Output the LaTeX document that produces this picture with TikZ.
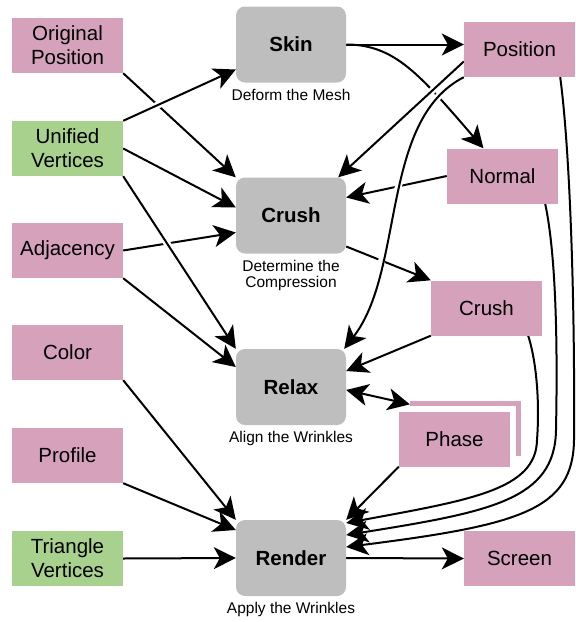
\documentclass[tikz,border=0pt]{standalone}
\usepackage{fontspec}
\setmainfont{Liberation Sans}
\usetikzlibrary{arrows.meta,calc}
\pgfdeclarelayer{bg}
\pgfsetlayers{bg,main}
\definecolor{pinkc}{HTML}{D5A1BB}
\definecolor{greenc}{HTML}{A9D18E}
\definecolor{grayc}{HTML}{BEBEBE}
\begin{document}
\begin{tikzpicture}[x=1pt,y=-1pt,
  box/.style={rectangle, minimum width=111pt, minimum height=55pt, inner sep=0pt, align=center, font=\fontsize{20.5}{24}\selectfont},
  pinkbox/.style={box, fill=pinkc},
  greenbox/.style={box, fill=greenc},
  proc/.style={rectangle, rounded corners=9pt, fill=grayc, minimum width=110pt, minimum height=76pt, inner sep=0pt, font=\fontsize{20.5}{24}\selectfont\bfseries},
  captxt/.style={anchor=north, inner sep=0pt, align=center, font=\fontsize{15.5}{16.5}\selectfont},
  conn/.style={line width=2pt, -{Stealth[length=22pt,width=22pt,inset=6pt]}},
  dconn/.style={line width=2pt, {Stealth[length=22pt,width=22pt,inset=6pt]}-{Stealth[length=22pt,width=22pt,inset=6pt]}},
  gapped/.style={preaction={draw=white, line width=7pt, -}}
]
\useasboundingbox (0,0) rectangle (576,622);
% left inputs
\node[pinkbox] (op) at (67.5,45.5) {Original\\Position};
\node[greenbox] (uv) at (67.5,148.5) {Unified\\Vertices};
\node[pinkbox] (adj) at (67.5,250.5) {Adjacency};
\node[pinkbox] (col) at (67.5,352.5) {Color};
\node[pinkbox] (prof) at (67.5,455.5) {Profile};
\node[greenbox] (tv) at (67.5,558.5) {Triangle\\Vertices};
% processes
\node[proc] (skin) at (291,44.5) {Skin};
\node[proc] (crush) at (291,215.5) {Crush};
\node[proc] (relax) at (291,387) {Relax};
\node[proc] (render) at (291,558) {Render};
\node[captxt] (skinl) at ($(skin.south)+(0,6)$) {Deform the Mesh};
\node[captxt] (crushl) at ($(crush.south)+(0,6)$) {Determine the\\Compression};
\node[captxt] (relaxl) at ($(relax.south)+(0,6)$) {Align the Wrinkles};
\node[captxt] (renderl) at ($(render.south)+(0,6)$) {Apply the Wrinkles};
% right outputs
\node[pinkbox] (pos) at (519.5,49.5) {Position};
\node[pinkbox] (norm) at (502.5,176) {Normal};
\node[pinkbox] (crr) at (486.5,308) {Crush};
\node[pinkbox] (phaseback) at (465.5,428) {};
\node[fill=white, minimum width=117pt, minimum height=60pt, inner sep=0pt] (phasegap) at (457.5,436) {};
\node[pinkbox] (phase) at (454.5,439) {Phase};
\node[pinkbox] (screen) at (519.5,558.5) {Screen};

\begin{pgfonlayer}{bg}
\draw[conn] (op.south east) -- (crush.north west);
\draw[conn,gapped] (uv.north east) -- ($(skin.west)+(0,25)$);
\draw[conn] (uv.east) -- ($(crush.west)+(0,-8)$);
\draw[conn] (adj.east) -- ($(crush.west)+(0,17)$);
\draw[conn,gapped] (uv.south east) -- (relax.north west);
\draw[conn] (adj.south east) -- ($(relax.west)+(0,-20)$);
\draw[conn] (col.south east) -- (render.north west);
\draw[conn] (prof.south east) -- ($(render.west)+(0,-28)$);
\draw[conn] (tv.east) -- (render.west);
\draw[conn] (skin.east) -- ($(pos.west)+(0,-5)$);
\draw[conn] (skin.east) .. controls (395,44.5) and (420,75) .. ($(norm.north)+(-19,0)$);
\draw[conn] (norm.west) -- ($(crush.east)+(0,-18)$);
\draw[conn] ($(crush.east)+(0,31)$) -- (crr.north west);
\draw[conn,gapped] ($(pos.west)+(0,12)$) -- ($(crush.north east)+(-8,0)$);
\draw[conn,gapped] (pos.south west) .. controls (380,120) and (405,270) .. ($(relax.north east)+(-2,0)$);
\draw[conn] (crr.south west) -- ($(relax.east)+(0,-16)$);
\draw[conn] (phase.south west) -- (render.north east);
\draw[conn] (render.east) -- (screen.west);
\draw[conn] ($(crr.south east)+(-14,0)$) .. controls (536,360) and (540,400) .. (537,440) .. controls (536,490) and (470,500) .. ($(render.east)+(0,-35)$);
\draw[conn] ($(norm.south east)+(-13,0)$) .. controls (555,250) and (558,330) .. (556,430) .. controls (555,500) and (490,512) .. ($(render.east)+(0,-23)$);
\draw[conn] ($(pos.south east)+(-15,0)$) .. controls (570,150) and (575,300) .. (574,440) .. controls (573,510) and (520,525) .. ($(render.east)+(0,-11)$);
\end{pgfonlayer}
\draw[dconn] ($(relax.east)+(0,3)$) -- ($(phaseback.north west)+(0,4)$);
\end{tikzpicture}
\end{document}
